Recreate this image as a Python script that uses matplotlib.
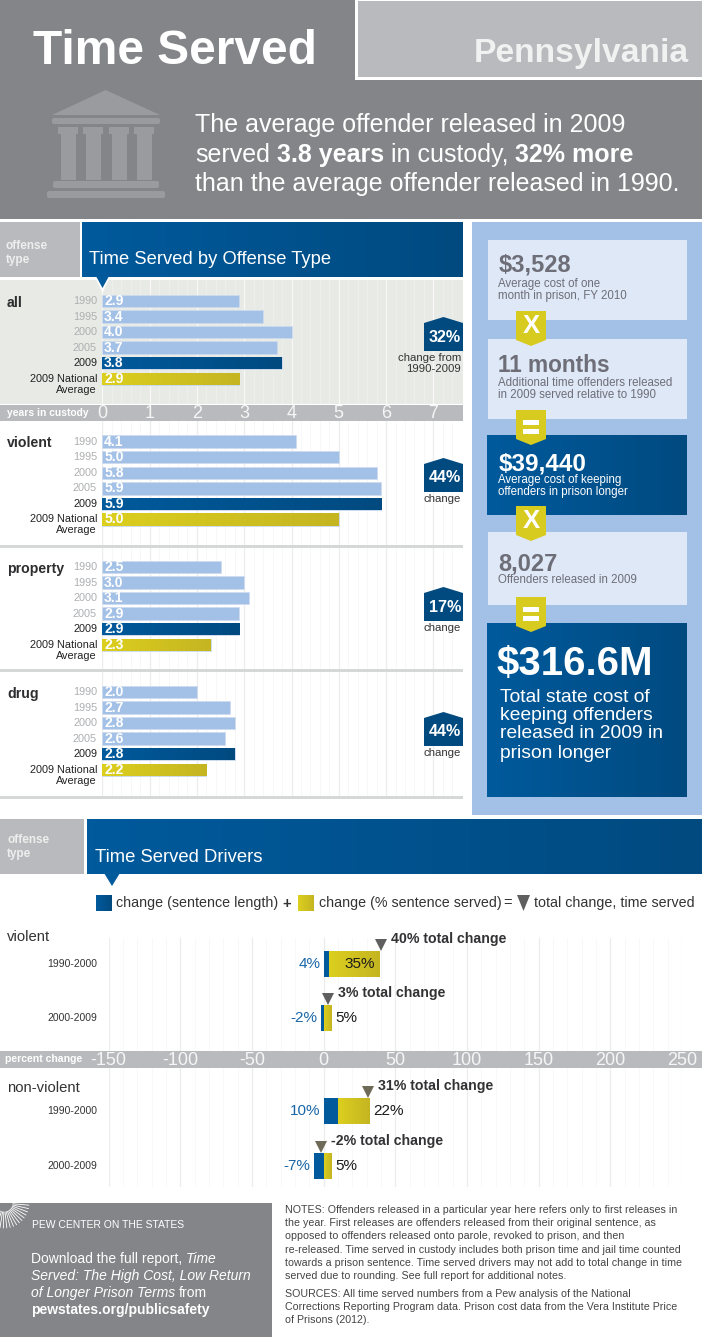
import numpy as np
import matplotlib
matplotlib.use('Agg')
import matplotlib.pyplot as plt
from matplotlib.colors import LinearSegmentedColormap
from matplotlib.patches import Polygon, Rectangle, FancyBboxPatch

# data
offense_years = ['1990', '1995', '2000', '2005', '2009', '2009 National']
all_values = [2.9, 3.4, 4.0, 3.7, 3.8, 2.9]
violent_values = [4.1, 5.0, 5.8, 5.9, 5.9, 5.0]
property_values = [2.5, 3.0, 3.1, 2.9, 2.9, 2.3]
drug_values = [2.0, 2.7, 2.8, 2.6, 2.8, 2.2]
year_ticks = [0, 1, 2, 3, 4, 5, 6, 7]

driver_periods = ['1990-2000', '2000-2009']
violent_sentence = [4, -2]
violent_served = [35, 5]
violent_total = [40, 3]
nonviolent_sentence = [10, -7]
nonviolent_served = [22, 5]
nonviolent_total = [31, -2]
percent_ticks = [-150, -100, -50, 0, 50, 100, 150, 200, 250]

SANS = 'Liberation Sans'
GREY = '#848589'
LIGHT_GREY = '#b9babd'
BLUE_L, BLUE_R = '#005a9c', '#004a80'
YEL_L, YEL_R = '#dccf1e', '#c5b522'
PALE = '#a3c1e6'
BOX = '#dfe8f6'
TXT = '#333335'

W, H = 702, 1337
fig = plt.figure(figsize=(W / 100, H / 100), dpi=100, facecolor='white')


def page_axes(z):
    a = fig.add_axes([0, 0, 1, 1], zorder=z)
    a.set_xlim(0, W)
    a.set_ylim(H, 0)
    a.axis('off')
    return a


def box_axes(x0, y0, x1, y1):
    a = fig.add_axes([x0 / W, 1 - y1 / H, (x1 - x0) / W, (y1 - y0) / H], zorder=1)
    a.set_facecolor('none')
    for s in a.spines.values():
        s.set_visible(False)
    return a


bg = page_axes(0)
fg = page_axes(5)
fg.patch.set_alpha(0)


def rect(x0, y0, x1, y1, color, a=bg, z=1):
    a.add_patch(Rectangle((x0, y0), x1 - x0, y1 - y0, fc=color, ec='none', zorder=z))


def grad(a, x0, y0, x1, y1, c0, c1, z=2, clip=None):
    cmap = LinearSegmentedColormap.from_list('g', [c0, c1])
    im = a.imshow(np.linspace(0, 1, 64).reshape(1, -1), cmap=cmap, extent=[x0, x1, y1, y0],
                  aspect='auto', zorder=z, interpolation='bilinear')
    if clip is not None:
        im.set_clip_path(clip)
    return im


def label(x, y, s, size, color=TXT, family=SANS, weight='normal', ha='left', va='center', style='normal'):
    return fg.text(x, y, s, fontsize=size, color=color, family=family, fontweight=weight,
                   ha=ha, va=va, fontstyle=style)


def rich_line(x, y, parts, size, color, family=SANS):
    # runs of mixed weight on one line, placed one after the other
    r = fig.canvas.get_renderer()
    gap = 0.278 * size * 100 / 72
    for s, weight, style in parts:
        t = label(x, y, s, size, color, family, weight, style=style)
        x += t.get_window_extent(r).width + gap


# top banner
rect(0, 0, W, 218.5, GREY)
rect(354.5, 0, W, 80, 'white', z=2)
rect(358, 1, W, 77, LIGHT_GREY, z=3)
label(33, 64, 'Time Served', 34.5, 'white', weight='bold', va='baseline')
label(689, 62, 'Pennsylvania', 24.2, '#f0f1f1', weight='bold', ha='right', va='baseline')

# temple icon
ICON = '#9a9b9f'
bg.add_patch(Polygon([(105.7, 90), (52, 115), (160, 115)], fc=ICON, ec='none', zorder=2))
for bx, by, bw, bh in [(52, 118, 108, 6), (53, 181, 106, 7), (47, 191, 118, 7)]:
    bg.add_patch(FancyBboxPatch((bx + 2, by + 2), bw - 4, bh - 4, boxstyle='round,pad=2', fc=ICON, ec='none', zorder=2))
for cx in [68, 93, 119, 144]:
    rect(cx - 10, 127, cx + 10, 134, ICON, z=2)
    rect(cx - 7.5, 134, cx + 7.5, 180, ICON, z=2)

rich_line(195, 125, [('The average offender released in 2009', 'normal', 'normal')], 18, 'white')
rich_line(195, 155, [('served', 'normal', 'normal'), ('3.8 years', 'bold', 'normal'), ('in custody,', 'normal', 'normal'),
                     ('32% more', 'bold', 'normal')], 18, 'white')
rich_line(195, 184, [('than the average offender released in 1990.', 'normal', 'normal')], 18, 'white')

# time served section header
rect(0, 222, 79.5, 277, LIGHT_GREY)
grad(bg, 82, 222, 463, 277, BLUE_L, BLUE_R)
label(6, 246, 'offense', 8.5, '#eeeeee', weight='bold')
label(6, 260, 'type', 8.5, '#eeeeee', weight='bold')
label(89, 260, 'Time Served by Offense Type', 13.2, 'white')

# panel backgrounds and strips
rect(0, 280, 463, 404, '#e8eae6')
rect(0, 405, 463, 421, LIGHT_GREY)
rect(0, 545, 463, 548, '#d6d7d7')
rect(0, 669, 463, 672, '#d6d7d7')
rect(0, 796, 463, 799, '#d6d7d7')
fg.add_patch(Polygon([(95.5, 278), (109.5, 278), (102.5, 293)], fc='white', ec='none'))
fg.add_patch(Polygon([(96.5, 277), (108.5, 277), (102.5, 288)], fc=BLUE_L, ec='none'))
label(7, 413, 'years in custody', 7.4, 'white', weight='bold')


def offense_panel(values, y0, y1, first_row, grid_major, grid_minor, name, name_y, pct, badge_y, notes):
    ax = box_axes(102.3, y0, 463, y1)
    row = 15.55
    ax.set_xlim(0, (463 - 102.3) / 47.3)
    ax.set_ylim((y1 - first_row) / row, (y0 - first_row) / row)
    ax.set_xticks(year_ticks)
    ax.set_xticks(np.arange(0, 7.6, 0.2), minor=True)
    ax.grid(True, which='major', color=grid_major, lw=0.9)
    ax.grid(True, which='minor', color=grid_minor, lw=0.6)
    ax.set_axisbelow(True)
    ax.tick_params(which='both', length=0, labelbottom=False, labelleft=False)
    ax.set_yticks([])
    rows = range(len(values))
    bars = ax.barh(rows, values, height=0.8, color=PALE, edgecolor='#cfdcef', lw=0.5, zorder=2)
    grad(ax, 0, 3.6, values[4], 4.4, BLUE_L, BLUE_R, z=2.5, clip=bars[4])
    grad(ax, 0, 4.6, values[5], 5.4, YEL_L, YEL_R, z=2.5, clip=bars[5])
    for i, v in enumerate(values):
        ax.text(0.04, i, f'{v:.1f}', color='white', fontsize=10, family=SANS, fontweight='bold',
                va='center', ha='left', zorder=3)
        y = first_row + i * row
        if i < 4:
            label(97, y, offense_years[i], 7.8, '#adafb1', ha='right')
        elif i == 4:
            label(97, y, offense_years[i], 7.8, '#222222', ha='right')
        else:
            label(97, y, offense_years[i], 7.8, '#222222', ha='right')
            label(97, y + 11, 'Average', 7.8, '#222222', ha='right')
    label(7, name_y, name, 10.2, '#2e2e30', weight='bold')
    fg.add_patch(Polygon([(424, badge_y + 6), (443.5, badge_y), (463, badge_y + 6), (463, badge_y + 34), (424, badge_y + 34)],
                         fc=BLUE_R, ec='none'))
    label(461, badge_y + 20, pct, 11.6, 'white', SANS, 'bold', ha='right')
    for k, s in enumerate(notes):
        label(461, badge_y + 41 + k * 11, s, 8.2, '#333333', SANS, 'normal', ha='right')
    return ax


ax_all = offense_panel(all_values, 280, 404, 301, '#f8f8f6', '#f0f1ee', 'all', 303, '32%', 317, ['change from', '1990-2009'])
ax_all.tick_params(axis='x', labelbottom=True, labelsize=13, labelcolor='#f6f6f6', pad=1)
for t in ax_all.get_xticklabels():
    t.set_family(SANS)
offense_panel(violent_values, 421, 545, 441.7, '#ececec', '#f6f6f6', 'violent', 443, '44%', 458, ['change'])
offense_panel(property_values, 548, 669, 567, '#ececec', '#f6f6f6', 'property', 569, '17%', 587, ['change'])
offense_panel(drug_values, 672, 796, 692, '#ececec', '#f6f6f6', 'drug', 694, '44%', 712, ['change'])

# cost panel on the right
rect(472, 222, W, 815, PALE)
rect(488, 240, 687, 320, BOX, z=2)
rect(488, 339, 687, 419, BOX, z=2)
grad(bg, 487, 435, 687, 515, BLUE_L, BLUE_R)
rect(488, 532, 687, 605, BOX, z=2)
grad(bg, 487, 623, 687, 797, BLUE_L, BLUE_R)

CINK = '#6d6e78'
label(498.5, 271.5, '$3,528', 17, CINK, SANS, 'bold', va='baseline')
label(498.5, 284, 'Average cost of one', 8.3, CINK, SANS)
label(498.5, 296, 'month in prison, FY 2010', 8.3, CINK, SANS)
label(498.5, 372, '11 months', 16.3, CINK, SANS, 'bold', va='baseline')
label(498.5, 383, 'Additional time offenders released', 8.3, CINK, SANS)
label(498.5, 395, 'in 2009 served relative to 1990', 8.3, CINK, SANS)
label(498.5, 470, '$39,440', 17.5, 'white', SANS, 'bold', va='baseline')
label(498.5, 480, 'Average cost of keeping', 8.3, 'white', SANS)
label(498.5, 492, 'offenders in prison longer', 8.3, 'white', SANS)
label(498.5, 570, '8,027', 17, CINK, SANS, 'bold', va='baseline')
label(498.5, 580, 'Offenders released in 2009', 8.3, CINK, SANS)
label(497, 675, '$316.6M', 29, 'white', SANS, 'bold', va='baseline')
for y, s in zip([697, 716, 734, 753], ['Total state cost of', 'keeping offenders', 'released in 2009 in', 'prison longer']):
    label(499.5, y, s, 13.9, 'white', SANS)

for top, sym in [(311, 'x'), (410, '='), (506, 'x'), (597, '=')]:
    fg.add_patch(Polygon([(516, top), (546, top), (546, top + 29), (531, top + 35), (516, top + 29)], fc='#d8cb1f', ec='none'))
    if sym == 'x':
        label(531, top + 15, 'X', 18.5, 'white', SANS, 'bold', ha='center')
    else:
        rect(523, top + 10, 539, top + 15, 'white', a=fg, z=6)
        rect(523, top + 19, 539, top + 24, 'white', a=fg, z=6)

# drivers section
rect(0, 819, 84, 874, LIGHT_GREY)
grad(bg, 87, 819, W, 874, BLUE_L, BLUE_R)
label(7, 840, 'offense', 8.5, '#eeeeee', weight='bold')
label(7, 854, 'type', 8.5, '#eeeeee', weight='bold')
label(95, 857, 'Time Served Drivers', 13.3, 'white')
fg.add_patch(Polygon([(104, 873), (120, 873), (112, 886)], fc=BLUE_L, ec='none'))

grad(bg, 96, 895, 112, 911, BLUE_L, BLUE_R)
grad(bg, 298, 895, 314, 911, YEL_L, YEL_R)
label(116, 903, 'change (sentence length)', 10.3, TXT)
label(282, 904, '+', 10.5, TXT, SANS, 'bold')
label(319, 903, 'change (% sentence served)', 10.3, TXT)
label(503.5, 903, '=', 10.5, TXT, SANS)
fg.add_patch(Polygon([(517, 895), (530, 895), (523.5, 911)], fc='#5f5f5f', ec='none'))
label(534, 903, 'total change, time served', 10.3, TXT)

rect(0, 1050.5, W, 1068, LIGHT_GREY)
label(5, 1059, 'percent change', 7.6, 'white', weight='bold')


def driver_panel(sentence, served, total, y0, y1, first_row, row, tri_color, title, title_y):
    ax = box_axes(108.7, y0, 682, y1)
    ax.set_xlim(percent_ticks[0], percent_ticks[-1])
    ax.set_ylim((y1 - first_row) / row, (y0 - first_row) / row)
    ax.set_xticks(percent_ticks)
    ax.set_xticks(np.arange(-150, 251, 10), minor=True)
    ax.grid(True, which='major', color='#ececec', lw=0.9, axis='x')
    ax.grid(True, which='minor', color='#f7f7f7', lw=0.6, axis='x')
    ax.set_axisbelow(True)
    ax.tick_params(which='both', length=0, labelbottom=False, labelleft=False)
    ax.set_yticks([])
    h = 26 / row
    rows = [0, 1]
    lefts = [max(s, 0) for s in sentence]
    ax.barh(rows, sentence, height=h, color=BLUE_L, zorder=2)
    b2 = ax.barh(rows, served, left=lefts, height=h, color=YEL_L, zorder=2)
    for i in rows:
        grad(ax, lefts[i], i - h / 2, lefts[i] + served[i], i + h / 2, YEL_L, YEL_R, z=2.5, clip=b2[i])
        label(97, first_row + i * row, driver_periods[i], 7.5, TXT, ha='right')
        bar_left = min(sentence[i], 0)
        ax.annotate(f'{sentence[i]}%', (bar_left, i), xytext=(-3, 0), textcoords='offset pixels', ha='right', va='center',
                    color='#1a66a8', fontsize=11, family=SANS, annotation_clip=False)
        end = lefts[i] + served[i]
        inside = served[i] > 30
        ax.annotate(f'{served[i]}%', (end, i), xytext=(-5 if inside else 4, 0), textcoords='offset pixels',
                    ha='right' if inside else 'left', va='center', color='#1a1a1a', fontsize=11, family=SANS, zorder=4)
        ax.plot(total[i], i - h / 2 - 6.5 / row, marker='v', ms=9, color=tri_color, mew=0, zorder=4, clip_on=False)
        ax.annotate(f'{total[i]}% total change', (total[i], i - h / 2), xytext=(10, 12), textcoords='offset pixels',
                    ha='left', va='center', color=TXT, fontsize=10.2, family=SANS, fontweight='bold', annotation_clip=False)
    label(7, title_y, title, 10.7, TXT)
    return ax


ax_v = driver_panel(violent_sentence, violent_served, violent_total, 938, 1050.5, 964, 54, '#5f5f5f', 'violent', 937)
ax_v.set_xticklabels([str(p) for p in percent_ticks])
ax_v.tick_params(axis='x', labelbottom=True, labelsize=13, labelcolor='#f6f6f6', pad=1)
for t in ax_v.get_xticklabels():
    t.set_family(SANS)
driver_panel(nonviolent_sentence, nonviolent_served, nonviolent_total, 1068, 1187, 1111, 55, '#6e6a58', 'non-violent', 1088)

# footer box
rect(0, 1203, 272, H, GREY)
for a in np.radians(np.linspace(5, 115, 15)):
    r0, r1 = (9, 25)
    bg.plot([4 + r0 * np.cos(a), 4 + r1 * np.cos(a)], [1203 + r0 * np.sin(a), 1203 + r1 * np.sin(a)], color='white', lw=0.6, zorder=3)
bg.set_xlim(0, W)
bg.set_ylim(H, 0)
label(32, 1225, 'PEW CENTER ON THE STATES', 7.5, 'white')
rich_line(31, 1259, [('Download the full report,', 'normal', 'normal'), ('Time', 'normal', 'italic')], 10, 'white')
rich_line(31, 1276, [('Served: The High Cost, Low Return', 'normal', 'italic')], 10, 'white')
rich_line(31, 1293, [('of Longer Prison Terms', 'normal', 'italic'), ('from', 'normal', 'normal')], 10, 'white')
rich_line(31, 1310, [('pewstates.org/publicsafety', 'bold', 'normal')], 10, 'white')

notes_lines = ['NOTES: Offenders released in a particular year here refers only to first releases in',
               'the year. First releases are offenders released from their original sentence, as',
               'opposed to offenders released onto parole, revoked to prison, and then',
               're-released. Time served in custody includes both prison time and jail time counted',
               'towards a prison sentence. Time served drivers may not add to total change in time',
               'served due to rounding. See full report for additional notes.']
sources_lines = ['SOURCES: All time served numbers from a Pew analysis of the National',
                 'Corrections Reporting Program data. Prison cost data from the Vera Institute Price',
                 'of Prisons (2012).']
for i, s in enumerate(notes_lines):
    label(285, 1210 + i * 13.2, s, 7.7, '#444446', SANS)
for i, s in enumerate(sources_lines):
    label(285, 1294 + i * 13.2, s, 7.7, '#444446', SANS)

fig.savefig('out.png', dpi=100)
